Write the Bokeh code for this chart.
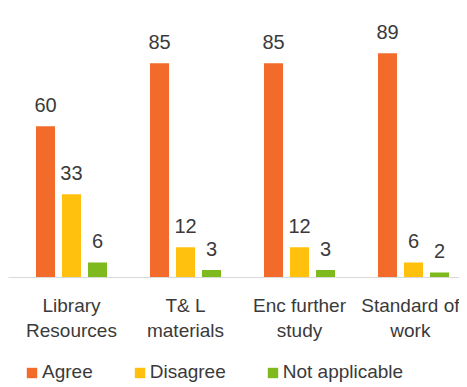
from bokeh.plotting import figure
from bokeh.layouts import column
from bokeh.models import ColumnDataSource, Legend, LegendItem, FixedTicker, Range1d
from bokeh.core.properties import value
from bokeh.embed import file_html
from bokeh.resources import INLINE

categories = ["Library\nResources", "T& L\nmaterials", "Enc further\nstudy", "Standard of\nwork"]
series_names = ["Agree", "Disagree", "Not applicable"]
agree = [60, 85, 85, 89]
disagree = [33, 12, 12, 6]
not_applicable = [6, 3, 3, 2]
colors = ["#F26B2A", "#FFC10E", "#7EBA1E"]

FONT = "Liberation Sans"
TEXT_COLOR = "#3a3a3a"

p = figure(frame_width=451, frame_height=269, output_backend="svg", toolbar_location=None,
           x_range=Range1d(-0.5526, 3.4035), y_range=Range1d(0, 106.75),
           min_border_left=8, min_border_right=0, min_border_top=8, min_border_bottom=0)

offsets = [-0.228, 0.0, 0.228]
bar_w = 0.167
for vals, col, off in zip([agree, disagree, not_applicable], colors, offsets):
    xs = [i + off for i in range(len(categories))]
    src = ColumnDataSource(dict(x=xs, top=vals, lab=[str(v) for v in vals]))
    p.vbar(x="x", top="top", width=bar_w, bottom=0, source=src,
           fill_color=col, line_color=None)
    p.text(x="x", y="top", text="lab", source=src, text_align="center",
           text_baseline="alphabetic", y_offset=-21, text_font=value(FONT),
           text_font_size="20px", text_color=TEXT_COLOR)

p.xaxis.ticker = FixedTicker(ticks=list(range(len(categories))))
p.xaxis.major_label_overrides = {i: c for i, c in enumerate(categories)}
p.xaxis.major_label_text_font = FONT
p.xaxis.major_label_text_font_size = "19px"
p.xaxis.major_label_text_color = TEXT_COLOR
p.xaxis.major_label_standoff = 11
p.xaxis.axis_line_color = "#d9d9d9"
p.xaxis.major_tick_line_color = None
p.xaxis.minor_tick_line_color = None
p.yaxis.visible = False
p.xgrid.visible = False
p.ygrid.visible = False
p.outline_line_color = None

# legend strip below the chart (swatch renderers have zero height, so draw nothing)
pl = figure(frame_width=451, frame_height=43, output_backend="svg", toolbar_location=None,
            x_range=Range1d(0, 1), y_range=Range1d(0, 1),
            min_border_left=8, min_border_right=0, min_border_top=0, min_border_bottom=0)
pl.xaxis.visible = False
pl.yaxis.visible = False
pl.xgrid.visible = False
pl.ygrid.visible = False
pl.outline_line_color = None
leg_renderers = [pl.vbar(x=[0.5], top=[0], bottom=0, width=0.01, fill_color=c, line_color=None)
                 for c in colors]

legend = Legend(items=[LegendItem(label=n, renderers=[r]) for n, r in zip(series_names, leg_renderers)],
                orientation="horizontal", location=(17, 3),
                margin=0, padding=0, spacing=40, label_standoff=4,
                glyph_width=13, glyph_height=13,
                label_text_font=FONT, label_text_font_size="19px",
                label_text_color=TEXT_COLOR, border_line_color=None,
                background_fill_alpha=0)
pl.add_layout(legend)

open("out.html", "w").write(file_html(column(p, pl, spacing=0), INLINE))
